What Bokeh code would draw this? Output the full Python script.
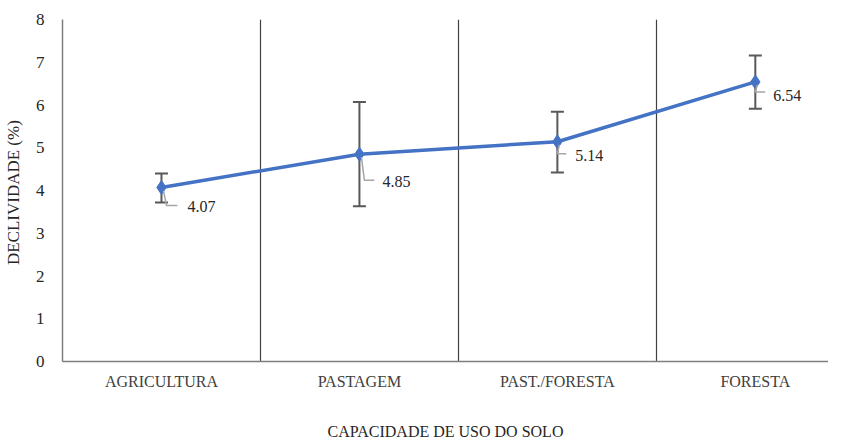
from bokeh.plotting import figure
from bokeh.models import FixedTicker, ColumnDataSource, Whisker, TeeHead, Range1d
from bokeh.core.properties import value
from bokeh.embed import file_html
from bokeh.resources import INLINE

categories = ["AGRICULTURA", "PASTAGEM", "PAST./FORESTA", "FORESTA"]
means = [4.07, 4.85, 5.14, 6.54]
err_upper = [4.40, 6.07, 5.84, 7.16]
err_lower = [3.72, 3.63, 4.42, 5.91]
value_labels = ["4.07", "4.85", "5.14", "6.54"]
y_ticks = [0, 1, 2, 3, 4, 5, 6, 7, 8]

# label placement (screen px relative to the point; dy positive = down)
label_dx = [26, 23, 18, 18]
label_dy = [19, 27, 14, 14]
elbow_dx = [5, 5, 0, 0]
elbow_dy = [18, 26, 12, 10]
end_dx = [16, 15, 9, 10]

FONT = "Liberation Serif"
W, H = 828, 442
LEFT, TOP, RIGHT, BOTTOM = 56, 19, 0, 81
frame_w = W - LEFT - RIGHT
frame_h = H - TOP - BOTTOM
cat_px = 199.5
x_end = -0.5 + frame_w / cat_px
px_x = 1.0 / cat_px
px_y = 8.0 / frame_h

xs = list(range(len(categories)))

p = figure(width=W, height=H, output_backend="svg", toolbar_location=None,
           x_range=Range1d(-0.5, x_end), y_range=Range1d(0, 8),
           min_border_left=LEFT, min_border_top=TOP, min_border_right=RIGHT,
           min_border_bottom=BOTTOM)
p.outline_line_color = None
p.background_fill_color = "white"

# grid: vertical separators between categories
p.ygrid.visible = False
p.xgrid.ticker = FixedTicker(ticks=[0.5, 1.5, 2.5])
p.xgrid.grid_line_color = "#404040"
p.xgrid.grid_line_width = 1.2

# x axis
p.xaxis.ticker = FixedTicker(ticks=xs)
p.xaxis.major_label_overrides = {i: c for i, c in enumerate(categories)}
p.xaxis.major_tick_line_color = None
p.xaxis.minor_tick_line_color = None
p.xaxis.axis_line_color = "#7f7f7f"
p.xaxis.axis_line_width = 1.5
p.xaxis.major_label_text_font = FONT
p.xaxis.major_label_text_font_size = "16px"
p.xaxis.major_label_text_color = "#404040"
p.xaxis.major_label_standoff = 5
p.xaxis.axis_label = "CAPACIDADE DE USO DO SOLO"
p.xaxis.axis_label_text_font = FONT
p.xaxis.axis_label_text_font_size = "16px"
p.xaxis.axis_label_text_font_style = "normal"
p.xaxis.axis_label_text_color = "#262626"
p.xaxis.axis_label_standoff = 30

# y axis
p.yaxis.ticker = FixedTicker(ticks=y_ticks)
p.yaxis.major_tick_line_color = None
p.yaxis.minor_tick_line_color = None
p.yaxis.axis_line_color = "#7f7f7f"
p.yaxis.axis_line_width = 1.5
p.yaxis.major_label_text_font = FONT
p.yaxis.major_label_text_font_size = "17px"
p.yaxis.major_label_text_color = "#262626"
p.yaxis.major_label_standoff = 12
p.yaxis.axis_label = "DECLIVIDADE  (%)"
p.yaxis.axis_label_text_font = FONT
p.yaxis.axis_label_text_font_size = "17px"
p.yaxis.axis_label_text_font_style = "normal"
p.yaxis.axis_label_text_color = "#262626"
p.yaxis.axis_label_standoff = 10

src = ColumnDataSource(dict(x=xs, y=means, upper=err_upper, lower=err_lower,
                            label=value_labels,
                            dx=label_dx, dy=label_dy))

# error bars
p.add_layout(Whisker(source=src, base="x", upper="upper", lower="lower",
                     dimension="height", line_color="#595959", line_width=2,
                     upper_head=TeeHead(size=13, line_color="#595959", line_width=2),
                     lower_head=TeeHead(size=13, line_color="#595959", line_width=2)))

# line + markers
p.line("x", "y", source=src, line_color="#4472C4", line_width=3.5)
p.scatter("x", "y", source=src, marker="diamond", size=14,
          fill_color="#4472C4", line_color="#4472C4")

# leader lines
lx, ly = [], []
for i in range(len(xs)):
    x0, y0 = xs[i], means[i]
    lx.append([x0 + 2 * px_x, x0 + elbow_dx[i] * px_x, x0 + end_dx[i] * px_x])
    ly.append([y0 - 3 * px_y, y0 - elbow_dy[i] * px_y, y0 - elbow_dy[i] * px_y])
p.multi_line(lx, ly, line_color="#a6a6a6", line_width=1.5)

# value labels
p.text("x", "y", text="label", source=src, x_offset="dx", y_offset="dy",
       text_font=value(FONT), text_font_size="16px", text_color="#262626",
       text_baseline="middle", text_align="left")

open("out.html", "w").write(file_html(p, INLINE))
